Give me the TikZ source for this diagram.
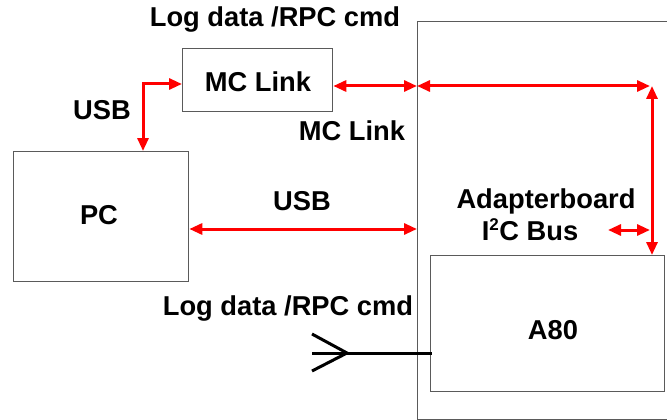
\documentclass[tikz,border=0pt]{standalone}
\usepackage{fontspec}
\setmainfont{Liberation Sans}
\usetikzlibrary{arrows.meta}
\definecolor{boxgray}{RGB}{90,90,90}
\definecolor{arrred}{RGB}{255,0,0}
\begin{document}
\begin{tikzpicture}[x=1pt,y=-1pt,
  boxst/.style={draw=boxgray, line width=1.3pt, fill=white, inner sep=0pt, anchor=north west},
  lbl/.style={font=\fontsize{27.3}{31}\selectfont\bfseries, inner sep=0pt, anchor=base},
  redarr/.style={draw=arrred, line width=3pt, {Triangle[length=13pt,width=11pt]}-{Triangle[length=13pt,width=11pt]}},
  blackline/.style={draw=black, line width=3pt}
]
\useasboundingbox (0,0) rectangle (667,420);
\clip (0,0) rectangle (667,420);
% boxes
\node[boxst, minimum width=300pt, minimum height=398pt] (adb) at (417,21) {};
\node[boxst, minimum width=175pt, minimum height=130pt] (pc) at (13,151) {};
\node[boxst, minimum width=150pt, minimum height=63pt] (mcl) at (182,48) {};
\node[boxst, minimum width=234pt, minimum height=136pt] (a80) at (430,255) {};
% box texts
\node[lbl] (pct) at (99,224) {PC};
\node[lbl] (mclt) at (258,92) {MC Link};
\node[lbl] (a80t) at (553,339) {A80};
% labels
\node[lbl] (toplog) at (275,27) {Log data /RPC cmd};
\node[lbl] (usbl) at (102,119) {USB};
\node[lbl] (mcll) at (352,140) {MC Link};
\node[lbl] (usbm) at (302,210) {USB};
\node[lbl] (adbl) at (546,208) {Adapterboard};
\node[lbl] (i2c) at (530,240) {I\textsuperscript{\fontsize{17}{17}\selectfont 2}C Bus};
\node[lbl] (botlog) at (288,315) {Log data /RPC cmd};
% coordinates
\coordinate (c1) at (143,84);
\coordinate (ya) at (0,86);
\coordinate (cr) at (652,86);
\coordinate (crr) at (650,86);
\coordinate (yusb) at (0,229);
\coordinate (i2cl) at (608,230);
\coordinate (i2cr) at (650,230);
\coordinate (bl) at (312,353);
\coordinate (be) at (432,353);
\coordinate (tip) at (347,353);
% red connectors
\draw[redarr, line join=miter] (c1 |- pc.north) -- (c1) -- (mcl.west |- c1);
\draw[redarr] (mcl.east |- ya) -- (adb.west |- ya);
\draw[redarr] (adb.west |- ya) -- (crr);
\draw[redarr] (cr) -- (cr |- a80.north);
\draw[redarr] (i2cl) -- (i2cr);
\draw[redarr] (pc.east |- yusb) -- (adb.west |- yusb);
% black line with chevron
\draw[blackline] (bl) -- (be);
\draw[blackline, line join=miter] ([yshift=-18pt]bl) -- (tip) -- ([yshift=19pt]bl);
\end{tikzpicture}
\end{document}
